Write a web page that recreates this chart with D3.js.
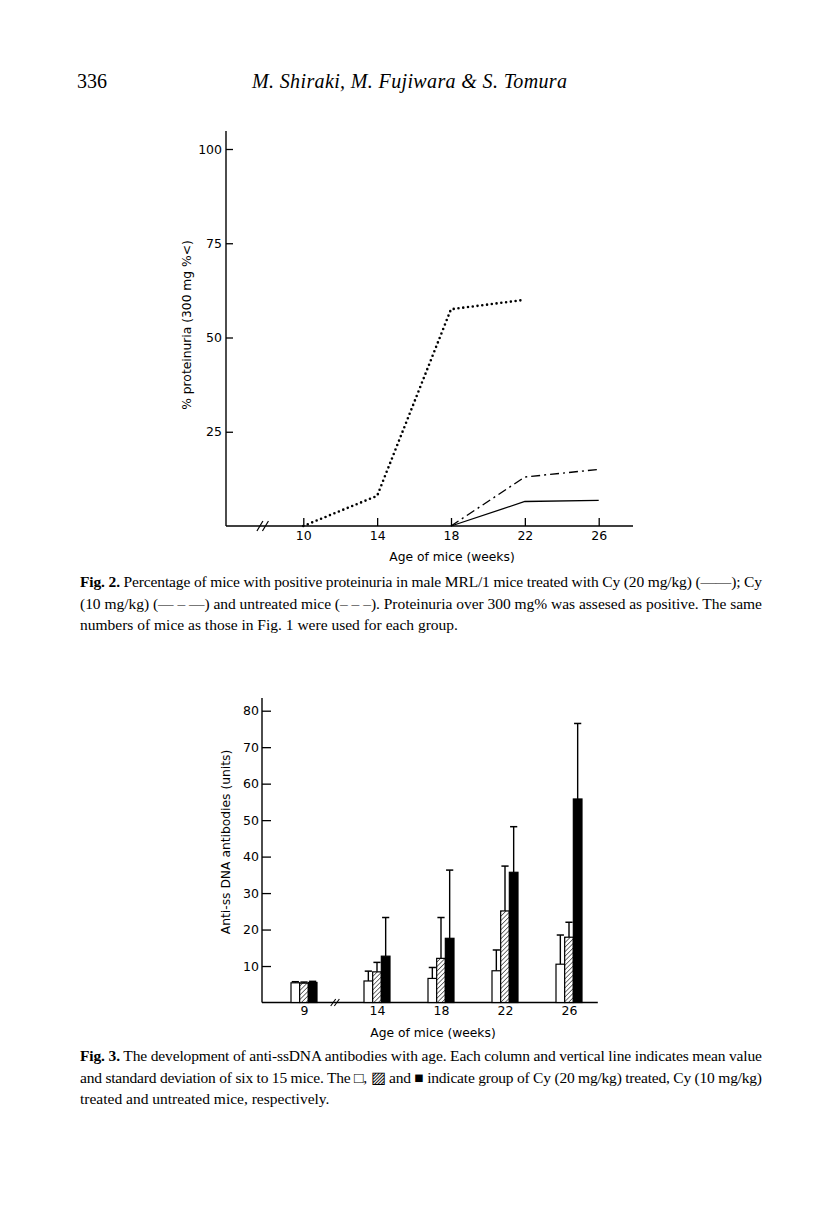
<!DOCTYPE html>
<html>
<head>
<meta charset="utf-8">
<script src="https://cdn.jsdelivr.net/npm/d3@7"></script>
<style>
  body { margin: 0; background: #fff; }
  svg { display: block; background: #fff; }
  .axis text { font-family: "DejaVu Sans", sans-serif; font-size: 12.5px; fill: #000; }
  .axis line { stroke: #000; stroke-width: 1.3; }
  .label { font-family: "DejaVu Sans", sans-serif; font-size: 12.3px; fill: #000; }
  .caption { font-family: "Liberation Serif", serif; font-size: 15.5px; fill: #000; }
  .head { font-family: "Liberation Serif", serif; font-size: 20px; fill: #000; }
</style>
</head>
<body>
<svg id="page" width="816" height="1205"></svg>
<script>
// Fig. 2 - % proteinuria by age (weeks)
const weekTicks2 = [10, 14, 18, 22, 26];
const pctTicks = [25, 50, 75, 100];
const untreatedWeeks = [10, 14, 18, 22];
const untreatedPct = [0, 8, 57.5, 60];
const cy10Weeks = [18, 22, 26];
const cy10Pct = [0, 13, 15];
const cy20Weeks = [18, 22, 26];
const cy20Pct = [0, 6.5, 6.8];

// Fig. 3 - anti-ssDNA antibodies
const ageGroups = ["9", "14", "18", "22", "26"];
const groupWeeks = [9, 14, 18, 22, 26];
const seriesNames = ["cy20", "cy10", "untreated"];
const cy20Mean = [5.4, 5.9, 6.6, 8.7, 10.5];
const cy20Sd = [0.3, 2.7, 3.0, 5.7, 8.0];
const cy10Mean = [5.3, 8.4, 12.1, 25.1, 17.9];
const cy10Sd = [0.3, 2.6, 11.2, 12.3, 4.1];
const untreatedMean = [5.5, 12.7, 17.6, 35.7, 55.8];
const untreatedSd = [0.3, 10.6, 18.7, 12.5, 20.7];
const unitTicks = [10, 20, 30, 40, 50, 60, 70, 80];

const svg = d3.select("#page");

// pattern for the Cy 10 bars
svg.append("defs").append("pattern")
    .attr("id", "hatch")
    .attr("patternUnits", "userSpaceOnUse")
    .attr("width", 3.2).attr("height", 3.2)
    .attr("patternTransform", "rotate(45)")
    .call(p => p.append("rect").attr("width", 3.2).attr("height", 3.2).attr("fill", "#fff"))
    .append("line")
    .attr("x1", 0).attr("y1", 0).attr("x2", 0).attr("y2", 3.2)
    .attr("stroke", "#000").attr("stroke-width", 1.1);

// header
svg.append("text").attr("class", "head").attr("x", 77).attr("y", 88).text("336");
svg.append("text").attr("class", "head").attr("x", 252).attr("y", 88)
    .attr("font-style", "italic")
    .attr("textLength", 315).attr("lengthAdjust", "spacing")
    .text("M. Shiraki, M. Fujiwara & S. Tomura");

// ---------- Fig. 2 ----------
const x2 = d3.scaleLinear().domain([10, 26]).range([303.3, 598.7]);
const y2 = d3.scaleLinear().domain([0, 100]).range([526, 149]);
const axisLeft2 = 226;

const fig2 = svg.append("g");

fig2.append("g").attr("class", "axis")
    .attr("transform", "translate(" + axisLeft2 + ",0)")
    .call(d3.axisLeft(y2).tickValues(pctTicks).tickSizeInner(-7).tickSizeOuter(0).tickPadding(4))
    .call(g => g.select(".domain").remove());
fig2.append("line")
    .attr("x1", axisLeft2).attr("x2", axisLeft2)
    .attr("y1", y2(0)).attr("y2", y2(104.8))
    .attr("stroke", "#000").attr("stroke-width", 1.4);

fig2.append("g").attr("class", "axis")
    .attr("transform", "translate(0," + y2(0) + ")")
    .call(d3.axisBottom(x2).tickValues(weekTicks2).tickSizeInner(-8).tickSizeOuter(0).tickPadding(5))
    .call(g => g.select(".domain").remove());
fig2.append("line")
    .attr("x1", axisLeft2).attr("x2", x2(27.86))
    .attr("y1", y2(0)).attr("y2", y2(0))
    .attr("stroke", "#000").attr("stroke-width", 1.4);

// axis break
[7.65, 7.95].forEach(w => {
    fig2.append("line")
        .attr("x1", x2(w) - 3).attr("y1", y2(0) + 5)
        .attr("x2", x2(w) + 3).attr("y2", y2(0) - 5)
        .attr("stroke", "#000").attr("stroke-width", 1.2);
});

const line2 = d3.line().x(d => x2(d[0])).y(d => y2(d[1]));

fig2.append("path")
    .attr("d", line2(d3.zip(untreatedWeeks, untreatedPct)))
    .attr("fill", "none").attr("stroke", "#000")
    .attr("stroke-width", 2.6).attr("stroke-linecap", "round")
    .attr("stroke-dasharray", "0 4.8");
fig2.append("path")
    .attr("d", line2(d3.zip(cy10Weeks, cy10Pct)))
    .attr("fill", "none").attr("stroke", "#000")
    .attr("stroke-width", 1.4)
    .attr("stroke-dasharray", "9 4 2 4");
fig2.append("path")
    .attr("d", line2(d3.zip(cy20Weeks, cy20Pct)))
    .attr("fill", "none").attr("stroke", "#000")
    .attr("stroke-width", 1.3);

fig2.append("text").attr("class", "label")
    .attr("transform", "translate(187,325) rotate(-90)")
    .attr("text-anchor", "middle").attr("dominant-baseline", "central")
    .text("% proteinuria (300 mg %<)");
fig2.append("text").attr("class", "label")
    .attr("x", 452).attr("y", 561).attr("text-anchor", "middle")
    .text("Age of mice (weeks)");

// ---------- Fig. 3 ----------
const x3 = d3.scaleLinear().domain([9, 14, 26]).range([304, 377, 569]);
const inner = d3.scaleBand().domain(seriesNames).range([-13, 13]);
const y3 = d3.scaleLinear().domain([0, 80]).range([1002.5, 710.7]);
const axisLeft3 = 262;

const fig3 = svg.append("g");

fig3.append("g").attr("class", "axis")
    .attr("transform", "translate(" + axisLeft3 + ",0)")
    .call(d3.axisLeft(y3).tickValues(unitTicks).tickSizeInner(-9).tickSizeOuter(0).tickPadding(3))
    .call(g => g.select(".domain").remove());
fig3.append("line")
    .attr("x1", axisLeft3).attr("x2", axisLeft3)
    .attr("y1", y3(0)).attr("y2", y3(83.5))
    .attr("stroke", "#000").attr("stroke-width", 1.4);

fig3.append("g").attr("class", "axis")
    .attr("transform", "translate(0," + y3(0) + ")")
    .call(d3.axisBottom(x3).tickValues(groupWeeks).tickFormat((d, i) => ageGroups[i])
        .tickSize(0).tickPadding(4))
    .call(g => g.select(".domain").remove());
fig3.append("line")
    .attr("x1", axisLeft3).attr("x2", x3(27.8))
    .attr("y1", y3(0)).attr("y2", y3(0))
    .attr("stroke", "#000").attr("stroke-width", 1.4);

[11.0, 11.25].forEach(w => {
    fig3.append("line")
        .attr("x1", x3(w) - 2.5).attr("y1", y3(0) + 3.5)
        .attr("x2", x3(w) + 2.5).attr("y2", y3(0) - 3.5)
        .attr("stroke", "#000").attr("stroke-width", 1.1);
});

const means = { cy20: cy20Mean, cy10: cy10Mean, untreated: untreatedMean };
const sds = { cy20: cy20Sd, cy10: cy10Sd, untreated: untreatedSd };
const fills = { cy20: "#fff", cy10: "url(#hatch)", untreated: "#000" };

const bars = [];
groupWeeks.forEach((w, i) => {
    seriesNames.forEach(s => bars.push({ week: w, series: s, mean: means[s][i], sd: sds[s][i] }));
});

// error bars first so the bar outlines sit on top
const err = fig3.append("g").selectAll("g").data(bars).join("g");
err.append("line")
    .attr("x1", d => x3(d.week) + inner(d.series) + inner.bandwidth() / 2)
    .attr("x2", d => x3(d.week) + inner(d.series) + inner.bandwidth() / 2)
    .attr("y1", d => y3(d.mean)).attr("y2", d => y3(d.mean + d.sd))
    .attr("stroke", "#000").attr("stroke-width", 1.4);
err.append("line")
    .attr("x1", d => x3(d.week) + inner(d.series) + inner.bandwidth() / 2 - 3.6)
    .attr("x2", d => x3(d.week) + inner(d.series) + inner.bandwidth() / 2 + 3.6)
    .attr("y1", d => y3(d.mean + d.sd)).attr("y2", d => y3(d.mean + d.sd))
    .attr("stroke", "#000").attr("stroke-width", 1.5);

fig3.append("g").selectAll("rect").data(bars).join("rect")
    .attr("x", d => x3(d.week) + inner(d.series))
    .attr("width", inner.bandwidth())
    .attr("y", d => y3(d.mean))
    .attr("height", d => y3(0) - y3(d.mean))
    .attr("fill", d => fills[d.series])
    .attr("stroke", "#000").attr("stroke-width", 1.2);

fig3.append("text").attr("class", "label")
    .attr("transform", "translate(226,842) rotate(-90)")
    .attr("text-anchor", "middle").attr("dominant-baseline", "central")
    .text("Anti-ss DNA antibodies (units)");
fig3.append("text").attr("class", "label")
    .attr("x", 433).attr("y", 1037).attr("text-anchor", "middle")
    .text("Age of mice (weeks)");

// ---------- captions ----------
function caption(lines, y0) {
    lines.forEach((ln, i) => {
        const t = svg.append("text").attr("class", "caption")
            .attr("x", 80).attr("y", y0 + i * 21.5);
        if (ln.justify) t.attr("textLength", 682).attr("lengthAdjust", "spacing");
        if (ln.bold) t.append("tspan").attr("font-weight", "bold").text(ln.bold);
        t.append("tspan").text(ln.text);
    });
}

caption([
    { bold: "Fig. 2.", text: " Percentage of mice with positive proteinuria in male MRL/1 mice treated with Cy (20 mg/kg) (——); Cy", justify: true },
    { text: "(10 mg/kg) (— – —) and untreated mice (– – –). Proteinuria over 300 mg% was assesed as positive. The same", justify: true },
    { text: "numbers of mice as those in Fig. 1 were used for each group." }
], 587);

caption([
    { bold: "Fig. 3.", text: " The development of anti-ssDNA antibodies with age. Each column and vertical line indicates mean value", justify: true },
    { text: "and standard deviation of six to 15 mice. The □, ▨ and ■ indicate group of Cy (20 mg/kg) treated, Cy (10 mg/kg)", justify: true },
    { text: "treated and untreated mice, respectively." }
], 1061);
</script>
</body>
</html>
